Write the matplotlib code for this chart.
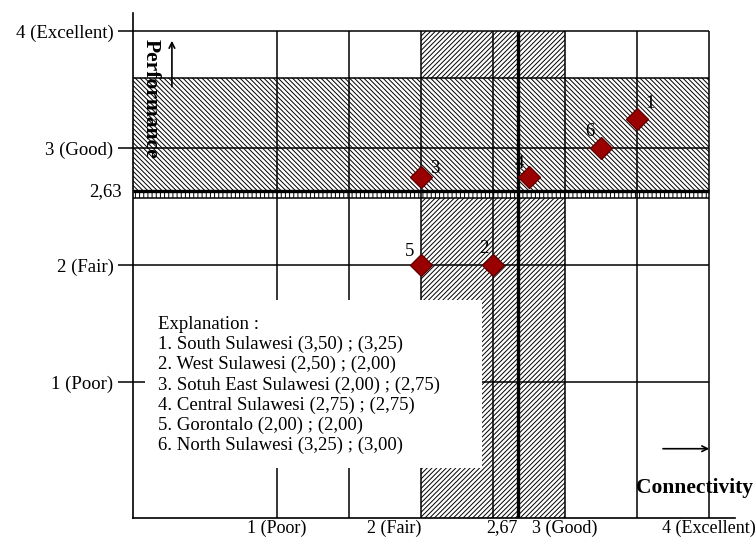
import matplotlib.pyplot as plt
from matplotlib.patches import Rectangle

plt.rcParams['font.family'] = ['Liberation Serif', 'DejaVu Serif']
plt.rcParams['hatch.linewidth'] = 0.7

# data
ids = ['1', '2', '3', '4', '5', '6']
provinces = ['South Sulawesi', 'West Sulawesi', 'Sotuh East Sulawesi',
             'Central Sulawesi', 'Gorontalo', 'North Sulawesi']
connectivity = [3.50, 2.50, 2.00, 2.75, 2.00, 3.25]
performance = [3.25, 2.00, 2.75, 2.75, 2.00, 3.00]

x_ticks = [1, 2, 2.67, 3, 4]
x_labels = ['1 (Poor)', '2 (Fair)', '2,67', '3 (Good)', '4 (Excellent)']
y_ticks = [1, 2, 3, 4]
y_labels = ['1 (Poor)', '2 (Fair)', '3 (Good)', '4 (Excellent)']

perf_mean = 2.63
conn_mean = 2.67
perf_band = (2.57, 3.6)
conn_band = (2.0, 3.0)
x_grid = [1, 1.5, 2, 2.5, 3, 3.5, 4]
y_grid = [1, 2, 3, 4, perf_band[1], perf_band[0]]

# label offsets (points) for the numbers next to markers
offsets = [(9, 11), (-7, 12), (10, 6), (-7, 10), (-8, 10), (-8, 12)]

fig = plt.figure(figsize=(7.55, 5.38), dpi=100)
ax = fig.add_axes([0.1762, 0.0372, 0.7974, 0.9387])
xmin, xmax = 0, 4.18
ymin, ymax = -0.162, 4.154
ax.set_xlim(xmin, xmax)
ax.set_ylim(ymin, ymax)

# shaded areas
ax.fill_between([conn_band[0], conn_band[1]], ymin, 4, facecolor='white',
                edgecolor='black', hatch='/' * 7, linewidth=0, zorder=1)
ax.fill_between([0, 4], perf_mean, perf_band[1], facecolor='white',
                edgecolor='black', hatch='\\' * 7, linewidth=0, zorder=1.5)
ax.fill_between([0, 4], perf_band[0], perf_mean, facecolor='white',
                edgecolor='black', hatch='||||', linewidth=0, zorder=1.6)

# grid
ax.hlines(y_grid, 0, 4, color='black', lw=1.1, zorder=2)
ax.vlines(x_grid, ymin, 4, color='black', lw=1.1, zorder=2)
ax.hlines(perf_mean, 0, 4, color='black', lw=2.4, zorder=2)
ax.vlines(conn_mean, ymin, 4, color='black', lw=2.4, zorder=2)

# explanation box
ax.add_patch(Rectangle((0.08, 0.265), 2.34, 1.435, facecolor='white',
                       edgecolor='none', zorder=3))
lines = ['Explanation :']
for i, name, c, p in zip(ids, provinces, connectivity, performance):
    cs = f'{c:.2f}'.replace('.', ',')
    ps = f'{p:.2f}'.replace('.', ',')
    lines.append(f'{i}. {name} ({cs}) ; ({ps})')
ax.text(0.17, 1.565, '\n'.join(lines), fontsize=13.5, va='top', ha='left',
        linespacing=1.22, zorder=4)

# points
ax.plot(connectivity, performance, 'D', color='#9b0000', mec='#600000',
        ms=11, zorder=5, clip_on=False)
for i, c, p, off in zip(ids, connectivity, performance, offsets):
    ax.annotate(i, (c, p), xytext=off, textcoords='offset points',
                fontsize=13.5, ha='center', va='center', zorder=6)

# axis titles with arrows
ax.text(0.125, 3.93, 'Performance', rotation=270, fontsize=15.5,
        fontweight='bold', ha='center', va='top', zorder=4)
ax.annotate('', xy=(0.27, 3.94), xytext=(0.27, 3.5),
            arrowprops=dict(arrowstyle='->', lw=1.2, color='black'), zorder=4)
ax.text(3.49, 0.094, 'Connectivity', fontsize=15.5, fontweight='bold',
        ha='left', va='center', clip_on=False, zorder=4)
ax.annotate('', xy=(4.02, 0.43), xytext=(3.66, 0.43),
            arrowprops=dict(arrowstyle='->', lw=1.2, color='black'), zorder=4)

# axes
for s in ['top', 'right']:
    ax.spines[s].set_visible(False)
for s in ['left', 'bottom']:
    ax.spines[s].set_linewidth(1.2)

ax.set_yticks(y_ticks)
ax.set_yticklabels(y_labels, fontsize=13.5)
ax.tick_params(axis='y', length=11, width=1.1, pad=3)
ax.set_xticks(x_ticks)
ax.set_xticklabels(x_labels, fontsize=13)
ax.tick_params(axis='x', length=0, pad=1)
xl = ax.get_xticklabels()
xl[1].set_ha('right')
xl[2].set_ha('right')
ax.text(-0.08, perf_mean, '2,63', fontsize=13.5, ha='right', va='center')

fig.savefig('out.png', dpi=100)
